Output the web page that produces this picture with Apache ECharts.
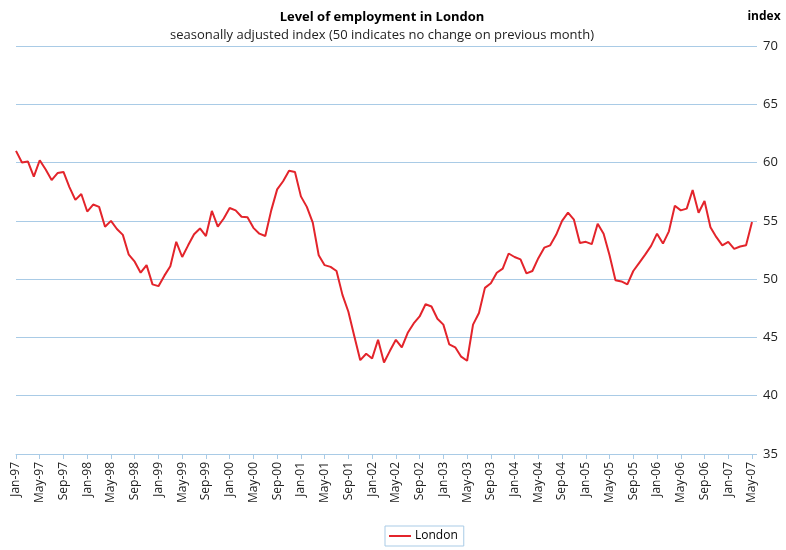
<!DOCTYPE html>
<html>
<head>
<meta charset="utf-8">
<script src="https://cdn.jsdelivr.net/npm/echarts@6/dist/echarts.min.js"></script>
<style>
  html, body { margin: 0; padding: 0; background: #fff; }
  #chart { width: 786px; height: 550px; }
</style>
</head>
<body>
<div id="chart"></div>
<script>
const monthNames = ['Jan', 'Feb', 'Mar', 'Apr', 'May', 'Jun', 'Jul', 'Aug', 'Sep', 'Oct', 'Nov', 'Dec'];
const startYear = 1997;

// seasonally adjusted index, Jan-97 .. May-07
const london = [
  61.0, 60.0, 60.1, 58.8, 60.2, 59.4, 58.5, 59.1, 59.2, 57.9, 56.8, 57.3,
  55.8, 56.4, 56.2, 54.5, 55.0, 54.3, 53.8, 52.1, 51.5, 50.55, 51.2, 49.55,
  49.4, 50.3, 51.1, 53.2, 51.9, 52.9, 53.85, 54.35, 53.7, 55.85, 54.5, 55.2,
  56.1, 55.9, 55.35, 55.3, 54.4, 53.9, 53.7, 55.9, 57.7, 58.4, 59.3, 59.2,
  57.1, 56.2, 54.85, 52.05, 51.2, 51.05, 50.7, 48.65, 47.2, 45.1, 43.05, 43.6,
  43.2, 44.8, 42.85, 43.85, 44.8, 44.15, 45.4, 46.2, 46.8, 47.85, 47.65, 46.6,
  46.1, 44.4, 44.15, 43.35, 43.0, 46.1, 47.1, 49.25, 49.65, 50.55, 50.9, 52.2,
  51.9, 51.7, 50.5, 50.7, 51.8, 52.7, 52.9, 53.8, 55.0, 55.7, 55.1, 53.1,
  53.2, 53.0, 54.75, 53.9, 52.05, 49.9, 49.8, 49.55, 50.7, 51.4, 52.1, 52.85,
  53.9, 53.05, 54.1, 56.3, 55.9, 56.05, 57.65, 55.7, 56.7, 54.45, 53.6, 52.9,
  53.2, 52.6, 52.8, 52.9, 54.9
];

const months = london.map((v, i) => {
  const yr = (startYear + Math.floor(i / 12)) % 100;
  return monthNames[i % 12] + '-' + String(yr).padStart(2, '0');
});

const gridBlue = '#a9cbe6';
const font = 'Open Sans';

var myChart = echarts.init(document.getElementById('chart'));
var option = {
  animation: false,
  textStyle: { fontFamily: font },
  title: [
    {
      text: 'Level of employment in London',
      subtext: 'seasonally adjusted index (50 indicates no change on previous month)',
      left: 377,
      textAlign: 'center',
      top: 6,
      itemGap: 5,
      textStyle: { fontFamily: font, fontSize: 13, fontWeight: 'bold', color: '#000' },
      subtextStyle: { fontFamily: font, fontSize: 13, color: '#222' }
    },
    {
      text: 'index',
      left: 759,
      textAlign: 'center',
      top: 6,
      textStyle: { fontFamily: font, fontSize: 12, fontWeight: 'bold', color: '#000' }
    }
  ],
  legend: {
    bottom: 4,
    left: 385,
    padding: [4, 6, 4, 4],
    borderColor: gridBlue,
    borderWidth: 1,
    borderRadius: 0,
    itemWidth: 22,
    itemHeight: 2,
    itemGap: 4,
    icon: 'rect',
    textStyle: { fontFamily: font, fontSize: 12, color: '#000', padding: [0, 0, 0, -1] },
    data: ['London']
  },
  grid: {
    left: 16,
    right: 34,
    top: 46,
    bottom: 96
  },
  xAxis: {
    type: 'category',
    data: months,
    boundaryGap: false,
    axisLine: { lineStyle: { color: gridBlue } },
    axisTick: { interval: 3, length: 5, lineStyle: { color: gridBlue } },
    axisLabel: {
      interval: 3,
      rotate: 90,
      margin: 8,
      fontFamily: font,
      fontSize: 12,
      color: '#222'
    },
    splitLine: { show: false }
  },
  yAxis: {
    type: 'value',
    position: 'right',
    min: 35,
    max: 70,
    interval: 5,
    axisLine: { show: false },
    axisTick: { show: true, length: 5, lineStyle: { color: gridBlue } },
    axisLabel: { margin: 11, fontFamily: font, fontSize: 13, color: '#222' },
    splitLine: { lineStyle: { color: gridBlue, width: 1 } }
  },
  series: [
    {
      name: 'London',
      type: 'line',
      data: london,
      showSymbol: false,
      symbol: 'none',
      lineStyle: { color: '#e3242b', width: 2 },
      itemStyle: { color: '#e3242b' }
    }
  ]
};
myChart.setOption(option);
</script>
</body>
</html>
